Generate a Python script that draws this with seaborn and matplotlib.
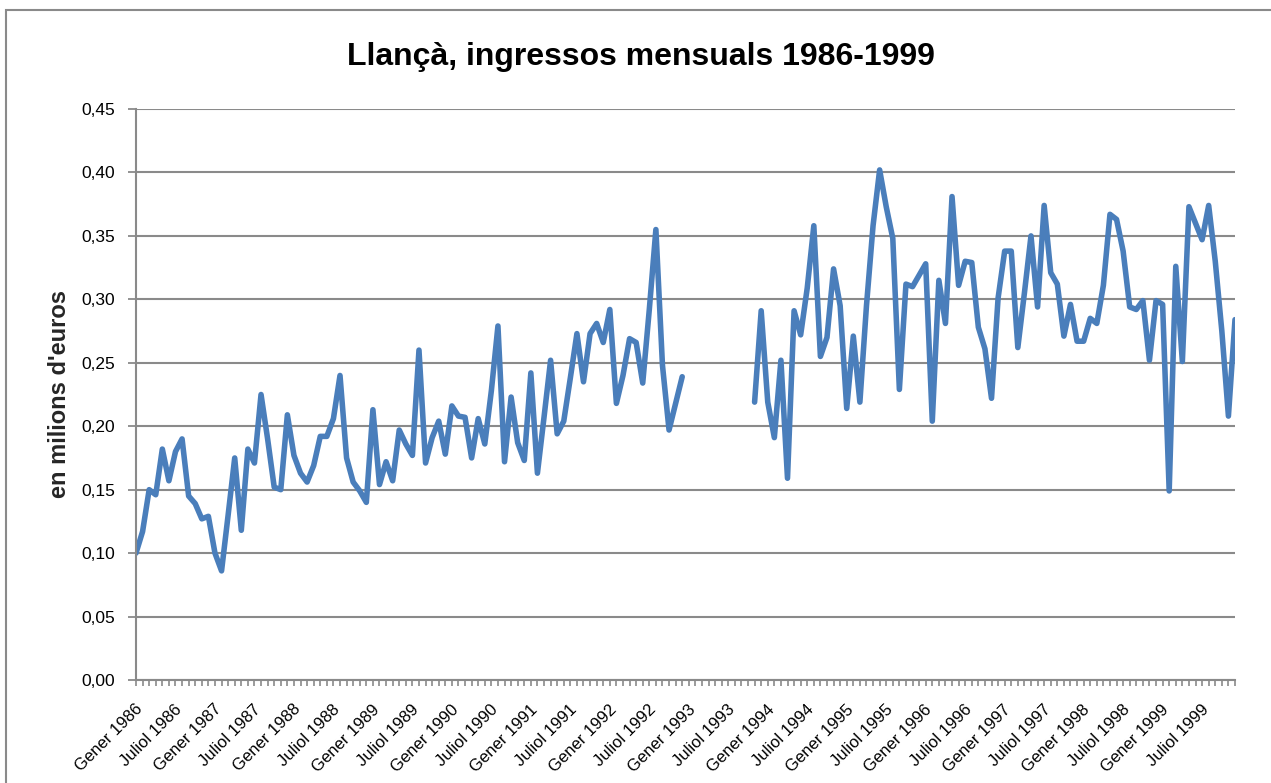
# Llançà monthly income 1986-1999 (line chart, Excel look)
import numpy as np
import pandas as pd
import matplotlib
matplotlib.use("Agg")
import matplotlib.pyplot as plt
import matplotlib.ticker as mticker
import matplotlib.transforms as mtransforms
import seaborn as sns

# --- data (millions of euros), one value per month, Jan 1986 .. Dec 1999
years = list(range(1986, 2000))
month_names = ["Gener", "Juliol"]  # labels shown every 6 months

income_1986_1992 = [
    0.100, 0.117, 0.150, 0.146, 0.182, 0.157, 0.180, 0.190, 0.145, 0.139, 0.127, 0.129,
    0.100, 0.086, 0.130, 0.175, 0.118, 0.182, 0.171, 0.225, 0.190, 0.152, 0.150, 0.209,
    0.177, 0.163, 0.156, 0.169, 0.192, 0.192, 0.206, 0.240, 0.175, 0.156, 0.149, 0.140,
    0.213, 0.154, 0.172, 0.157, 0.197, 0.186, 0.177, 0.260, 0.171, 0.191, 0.204, 0.178,
    0.216, 0.208, 0.207, 0.175, 0.206, 0.186, 0.228, 0.279, 0.172, 0.223, 0.187, 0.173,
    0.242, 0.163, 0.207, 0.252, 0.194, 0.204, 0.238, 0.273, 0.235, 0.273, 0.281, 0.266,
    0.292, 0.218, 0.240, 0.269, 0.266, 0.234, 0.292, 0.355, 0.248, 0.197, 0.218, 0.239,
]
# Jan-Oct 1993 missing
income_1993 = [np.nan] * 10 + [0.219, 0.291]
income_1994_1999 = [
    0.219, 0.191, 0.252, 0.159, 0.291, 0.272, 0.309, 0.358, 0.255, 0.270, 0.324, 0.295,
    0.214, 0.271, 0.219, 0.295, 0.358, 0.402, 0.373, 0.348, 0.229, 0.312, 0.310, 0.319,
    0.328, 0.204, 0.315, 0.281, 0.381, 0.311, 0.330, 0.329, 0.278, 0.261, 0.222, 0.301,
    0.338, 0.338, 0.262, 0.305, 0.350, 0.294, 0.374, 0.321, 0.312, 0.271, 0.296, 0.267,
    0.267, 0.285, 0.281, 0.311, 0.367, 0.363, 0.338, 0.294, 0.292, 0.299, 0.252, 0.299,
    0.296, 0.149, 0.326, 0.251, 0.373, 0.360, 0.347, 0.374, 0.330, 0.275, 0.208, 0.284,
]

values = income_1986_1992 + income_1993 + income_1994_1999
df = pd.DataFrame({"month": np.arange(len(values)), "income": values})
df["segment"] = df["income"].isna().cumsum()
df = df.dropna()

tick_pos = np.arange(0, len(values), 6)
tick_labels = [f"{month_names[(p // 6) % 2]} {years[p // 12]}" for p in tick_pos]

# --- figure
sns.set_theme(style="white")
plt.rcParams["font.family"] = ["Liberation Sans", "DejaVu Sans"]
plt.rcParams["text.color"] = "black"
plt.rcParams["xtick.color"] = "black"
plt.rcParams["ytick.color"] = "black"

W, H = 1271, 783
fig = plt.figure(figsize=(W / 100, H / 100), dpi=100)
ax = fig.add_axes([136 / W, 1 - 680 / H, (1235 - 136) / W, (680 - 109) / H])

line_color = "#4A7EBB"
for seg, part in df.groupby("segment"):
    sns.lineplot(data=part, x="month", y="income", ax=ax, color=line_color,
                 linewidth=4.0, estimator=None, sort=False, solid_joinstyle="round",
                 solid_capstyle="round")

ax.set_xlim(0, len(values) - 1)
ax.set_ylim(0, 0.45)
ax.yaxis.set_major_locator(mticker.MultipleLocator(0.05))
ax.yaxis.set_major_formatter(mticker.FuncFormatter(lambda v, p: f"{v:.2f}".replace(".", ",")))
ax.grid(axis="y", color="#8a8a8a", linewidth=1.5)
ax.set_axisbelow(True)

ax.set_xticks(tick_pos)
ax.set_xticklabels(tick_labels, rotation=45, ha="right", va="center",
                   rotation_mode="anchor", fontsize=12)
ax.set_xticks(np.arange(len(values)), minor=True)
ax.tick_params(axis="x", which="both", direction="out", length=4, color="#8a8a8a", width=1.2,
               pad=10, bottom=True)
ax.tick_params(axis="y", direction="out", length=6, color="#8a8a8a", width=1.3,
               labelsize=12.5, pad=9, left=True)
shift = mtransforms.ScaledTranslation(4 / 100, -7.5 / 100, fig.dpi_scale_trans)
for lab in ax.get_xticklabels():
    lab.set_transform(lab.get_transform() + shift)

for side in ["top", "right"]:
    ax.spines[side].set_visible(False)
for side in ["left", "bottom"]:
    ax.spines[side].set_color("#8a8a8a")
    ax.spines[side].set_linewidth(1.5)

ax.set_xlabel("")
ax.set_ylabel("en milions d'euros", fontsize=17, fontweight="bold", va="center")
ax.yaxis.set_label_coords((60 - 136) / (1235 - 136), 0.5)

fig.text(0.5 + 5 / W, 1 - 57 / H, "Llançà, ingressos mensuals 1986-1999",
         ha="center", va="center", fontsize=23, fontweight="bold")

# outer chart frame
fig.patches.append(plt.Rectangle((6 / W, -0.1), 1.2, 1 - 10 / H + 0.1, transform=fig.transFigure,
                                 fill=False, edgecolor="#8a8a8a", linewidth=1.5))

fig.savefig("out.png", dpi=100)
